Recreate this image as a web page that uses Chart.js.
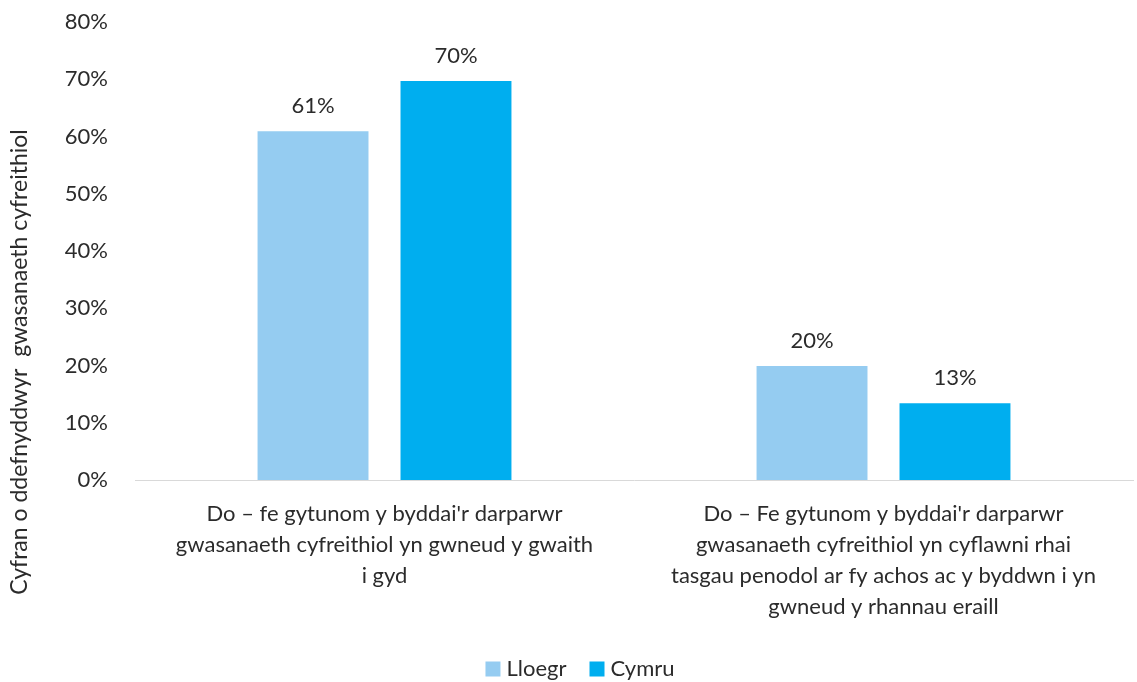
<!DOCTYPE html>
<html>
<head>
<meta charset="utf-8">
<script src="https://cdn.jsdelivr.net/npm/chart.js@4/dist/chart.umd.min.js"></script>
<style>
    html, body { margin: 0; padding: 0; background: #ffffff; }
    #wrap { width: 1137px; height: 682px; position: relative; }
</style>
</head>
<body>
<div id="wrap"><canvas id="main-chart"></canvas></div>
<script>
// chart data
const categoryLabels = [
    ["Do \u2013 fe gytunom y byddai'r darparwr", "gwasanaeth cyfreithiol yn gwneud y gwaith", "i gyd"],
    ["Do \u2013 Fe gytunom y byddai'r darparwr", "gwasanaeth cyfreithiol yn cyflawni rhai", "tasgau penodol ar fy achos ac y byddwn i yn", "gwneud y rhannau eraill"],
];
const lloegrValues = [60.9, 19.9];
const cymruValues = [69.7, 13.4];
const seriesNames = ["Lloegr", "Cymru"];
const yAxisTitle = "Cyfran o ddefnyddwyr  gwasanaeth cyfreithiol";

const fontFamily = "Lato, 'Open Sans', sans-serif";
const textColor = "#2b2b2b";

// draws the % above each bar
const barValueLabels = {
    id: "barValueLabels",
    afterDatasetsDraw(chart) {
        const ctx = chart.ctx;
        ctx.save();
        ctx.font = "22px " + fontFamily;
        ctx.fillStyle = textColor;
        ctx.textAlign = "center";
        ctx.textBaseline = "middle";
        chart.data.datasets.forEach((ds, i) => {
            chart.getDatasetMeta(i).data.forEach((bar, j) => {
                ctx.fillText(Math.round(ds.data[j]) + "%", bar.x, bar.y - 25);
            });
        });
        ctx.restore();
    },
};

// rotated y axis title, centred on the whole chart like Excel does it
const yTitlePlugin = {
    id: "yTitlePlugin",
    afterDraw(chart) {
        const ctx = chart.ctx;
        ctx.save();
        ctx.translate(20, 362);
        ctx.rotate(-Math.PI / 2);
        ctx.font = "23px " + fontFamily;
        ctx.fillStyle = textColor;
        ctx.textAlign = "center";
        ctx.textBaseline = "middle";
        ctx.fillText(yAxisTitle, 0, 0);
        ctx.restore();
    },
};

// small legend at the bottom, Excel style (tight gap between box and text)
const bottomLegend = {
    id: "bottomLegend",
    afterDraw(chart) {
        const ctx = chart.ctx;
        const box = 15;
        const gap = 6;
        const itemGap = 23;
        const cy = 669;
        ctx.save();
        ctx.font = "22px " + fontFamily;
        ctx.textBaseline = "middle";
        ctx.textAlign = "left";
        const widths = chart.data.datasets.map((ds) => ctx.measureText(ds.label).width);
        let total = 0;
        widths.forEach((w, i) => {
            total += box + gap + w + (i > 0 ? itemGap : 0);
        });
        let x = 580 - total / 2;
        chart.data.datasets.forEach((ds, i) => {
            ctx.fillStyle = ds.backgroundColor;
            ctx.fillRect(x, cy - box / 2, box, box);
            ctx.fillStyle = textColor;
            ctx.fillText(ds.label, x + box + gap, cy);
            x += box + gap + widths[i] + itemGap;
        });
        ctx.restore();
    },
};

let chartCanvas = document.getElementById("main-chart");

new Chart(chartCanvas, {
    type: "bar",
    data: {
        labels: categoryLabels,
        datasets: [
            {
                label: seriesNames[0],
                backgroundColor: "#95CCF1",
                borderWidth: 0,
                data: lloegrValues,
            },
            {
                label: seriesNames[1],
                backgroundColor: "#00AEEF",
                borderWidth: 0,
                data: cymruValues,
            },
        ],
    },
    options: {
        responsive: true,
        maintainAspectRatio: false,
        animation: false,
        layout: {
            padding: { top: 22, left: 0, right: 4, bottom: 41 },
        },
        datasets: {
            bar: {
                categoryPercentage: 0.573,
                barPercentage: 0.776,
            },
        },
        scales: {
            x: {
                grid: { display: false, drawTicks: false },
                border: { display: true, color: "#D9D9D9", width: 1 },
                ticks: {
                    color: textColor,
                    font: { family: fontFamily, size: 22, lineHeight: 1.41 },
                    padding: 18,
                    maxRotation: 0,
                    autoSkip: false,
                },
                afterFit(scale) {
                    scale.height = 161;
                },
            },
            y: {
                min: 0,
                max: 80,
                grid: { display: false, drawTicks: false },
                border: { display: false },
                ticks: {
                    stepSize: 10,
                    color: textColor,
                    font: { family: fontFamily, size: 22 },
                    padding: 27,
                    callback: (v) => v + "%",
                },
                afterFit(scale) {
                    scale.width = 135;
                    scale.paddingTop = 0;
                    scale.paddingBottom = 0;
                },
            },
        },
        plugins: {
            legend: { display: false },
            tooltip: { enabled: false },
        },
    },
    plugins: [barValueLabels, yTitlePlugin, bottomLegend],
});
</script>
</body>
</html>
